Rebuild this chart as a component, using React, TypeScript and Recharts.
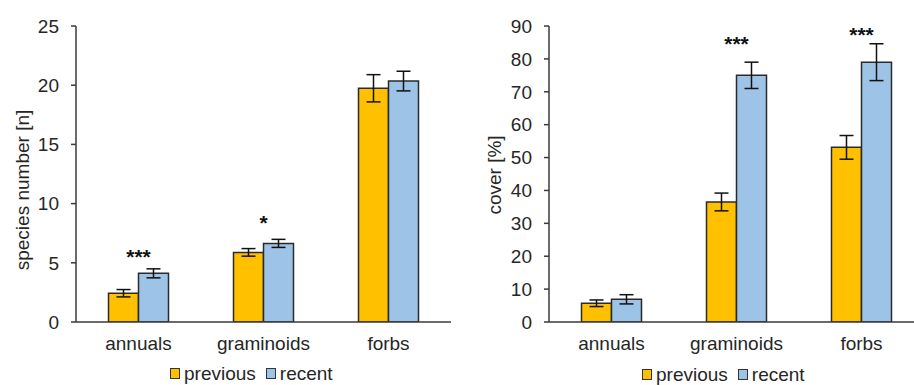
import React from "react"
import { ComposedChart, Bar, XAxis, YAxis, ErrorBar, ReferenceDot } from "recharts"

const categories = ["annuals", "graminoids", "forbs"]

const speciesPrevious = [2.43, 5.88, 19.74]
const speciesPreviousErr = [0.31, 0.32, 1.15]
const speciesRecent = [4.11, 6.64, 20.35]
const speciesRecentErr = [0.38, 0.34, 0.83]
const speciesSig = ["***", "*", ""]
const speciesSigY = [5.9, 8.8, 0]
const speciesTicks = [0, 5, 10, 15, 20, 25]

const coverPrevious = [5.7, 36.5, 53.1]
const coverPreviousErr = [1.0, 2.7, 3.6]
const coverRecent = [6.9, 75, 79]
const coverRecentErr = [1.4, 4.0, 5.6]
const coverSig = ["", "***", "***"]
const coverSigY = [0, 86, 88.8]
const coverTicks = [0, 10, 20, 30, 40, 50, 60, 70, 80, 90]

const PREV_COLOR = "#FFC000"
const RECENT_COLOR = "#9DC3E6"
const TEXT = "#262626"
const AXIS = "#3a3a3a"
const FONT = 19

function buildRows(prev: number[], prevErr: number[], recent: number[], recentErr: number[]) {
  return categories.map((name, i) => ({
    name,
    previous: prev[i],
    prevErr: prevErr[i],
    recent: recent[i],
    recentErr: recentErr[i],
  }))
}

interface PanelProps {
  left: number
  width: number
  yWidth: number
  marginRight: number
  max: number
  ticks: number[]
  rows: ReturnType<typeof buildRows>
  sig: string[]
  sigY: number[]
  yLabel: string
  yLabelX: number
  yLabelY: number
  legendLeft: number
  legendTop: number
}

function LegendBox({ left, top }: { left: number; top: number }) {
  const item = (color: string, label: string, last: boolean) => (
    <div style={{ display: "flex", alignItems: "center", marginRight: last ? 0 : 10 }}>
      <div style={{ width: 8, height: 9, background: color, border: "1px solid #333", marginRight: 4 }} />
      <span>{label}</span>
    </div>
  )
  return (
    <div
      style={{
        position: "absolute",
        left,
        top,
        display: "flex",
        fontSize: FONT,
        lineHeight: "19px",
        color: TEXT,
        whiteSpace: "nowrap",
      }}
    >
      {item(PREV_COLOR, "previous", false)}
      {item(RECENT_COLOR, "recent", true)}
    </div>
  )
}

function Panel(p: PanelProps) {
  return (
    <div style={{ position: "absolute", left: p.left, top: 0, width: p.width, height: 385 }}>
      <ComposedChart
        width={p.width}
        height={385}
        data={p.rows}
        margin={{ top: 26, right: p.marginRight, left: 0, bottom: 0 }}
        barCategoryGap={32.5}
        barGap={0}
      >
        <XAxis
          dataKey="name"
          height={63}
          tickLine={false}
          tickSize={0}
          tickMargin={15}
          axisLine={{ stroke: AXIS, strokeWidth: 1.5 }}
          tick={{ fill: TEXT, fontSize: FONT }}
          interval={0}
        />
        <YAxis
          width={p.yWidth}
          domain={[0, p.max]}
          ticks={p.ticks}
          allowDataOverflow
          tickSize={5}
          tickMargin={12}
          axisLine={{ stroke: AXIS, strokeWidth: 1.5 }}
          tickLine={{ stroke: AXIS, strokeWidth: 1.5 }}
          tick={{ fill: TEXT, fontSize: FONT }}
          label={{
            content: () => (
              <text
                x={p.yLabelX}
                y={p.yLabelY}
                transform={`rotate(-90 ${p.yLabelX} ${p.yLabelY})`}
                textAnchor="middle"
                dominantBaseline="central"
                fill={TEXT}
                fontSize={FONT}
              >
                {p.yLabel}
              </text>
            ),
          }}
        />
        <Bar dataKey="previous" fill={PREV_COLOR} stroke="#2a2a2a" strokeWidth={1.5} isAnimationActive={false}>
          <ErrorBar dataKey="prevErr" direction="y" width={7} stroke="#111" strokeWidth={1.5} />
        </Bar>
        <Bar dataKey="recent" fill={RECENT_COLOR} stroke="#2a2a2a" strokeWidth={1.5} isAnimationActive={false}>
          <ErrorBar dataKey="recentErr" direction="y" width={7} stroke="#111" strokeWidth={1.5} />
        </Bar>
        {p.sig.map((s, i) =>
          s ? (
            <ReferenceDot
              key={categories[i]}
              x={categories[i]}
              y={p.sigY[i]}
              r={0}
              fill="none"
              stroke="none"
              label={{
                content: (lp: any) => {
                  const vb = lp.viewBox || {}
                  const cx = (vb.x ?? 0) + (vb.width ?? 0) / 2
                  const cy = (vb.y ?? 0) + (vb.height ?? 0) / 2
                  return (
                    <text x={cx} y={cy + 12} textAnchor="middle" fill="#111" fontSize={21} fontWeight="bold">
                      {s}
                    </text>
                  )
                },
              }}
            />
          ) : null
        )}
      </ComposedChart>
      <LegendBox left={p.legendLeft} top={p.legendTop} />
    </div>
  )
}

export default function App() {
  const speciesRows = buildRows(speciesPrevious, speciesPreviousErr, speciesRecent, speciesRecentErr)
  const coverRows = buildRows(coverPrevious, coverPreviousErr, coverRecent, coverRecentErr)
  return (
    <div
      style={{
        position: "absolute",
        left: 0,
        top: 0,
        width: 914,
        height: 385,
        overflow: "hidden",
        background: "#fff",
        fontFamily: "'Liberation Sans', Arial, sans-serif",
      }}
    >
      <Panel
        left={0}
        width={457}
        yWidth={76}
        marginRight={6}
        max={25}
        ticks={speciesTicks}
        rows={speciesRows}
        sig={speciesSig}
        sigY={speciesSigY}
        yLabel="species number [n]"
        yLabelX={22}
        yLabelY={190}
        legendLeft={170}
        legendTop={364}
      />
      <Panel
        left={457}
        width={470}
        yWidth={92}
        marginRight={3}
        max={90}
        ticks={coverTicks}
        rows={coverRows}
        sig={coverSig}
        sigY={coverSigY}
        yLabel="cover [%]"
        yLabelX={37}
        yLabelY={175}
        legendLeft={185}
        legendTop={365}
      />
    </div>
  )
}
